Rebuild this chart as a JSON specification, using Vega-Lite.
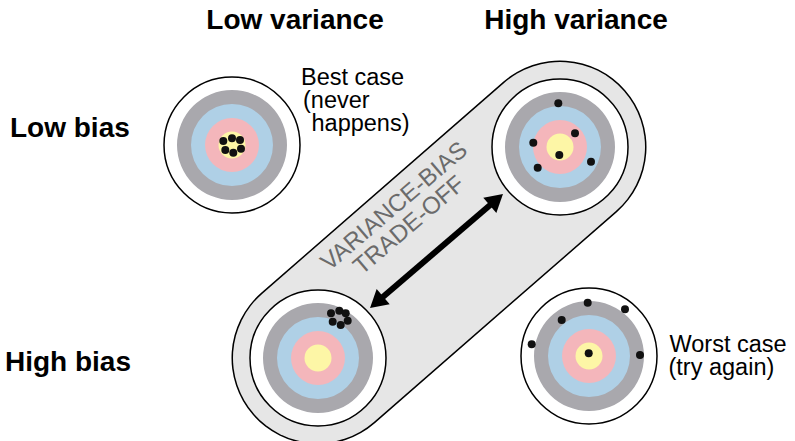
{
  "$schema": "https://vega.github.io/schema/vega-lite/v6.json",
  "width": 795,
  "height": 441,
  "autosize": "none",
  "padding": 0,
  "config": {"view": {"stroke": null}, "font": "Liberation Sans"},
  "datasets": {
    "capsule": [{"x": 318, "y": 358, "o": 1}, {"x": 560, "y": 147, "o": 2}],
    "targets": [
      {"target": "low bias, low variance", "x": 232, "y": 145},
      {"target": "low bias, high variance", "x": 560, "y": 147},
      {"target": "high bias, low variance", "x": 318, "y": 358},
      {"target": "high bias, high variance", "x": 589, "y": 356}
    ],
    "shots": [
      {"target": "low bias, low variance", "x": 223.3, "y": 141},
      {"target": "low bias, low variance", "x": 232, "y": 138.3},
      {"target": "low bias, low variance", "x": 240, "y": 140},
      {"target": "low bias, low variance", "x": 225.3, "y": 150},
      {"target": "low bias, low variance", "x": 233.3, "y": 152.7},
      {"target": "low bias, low variance", "x": 241, "y": 148.7},
      {"target": "low bias, high variance", "x": 558.3, "y": 103.3},
      {"target": "low bias, high variance", "x": 575, "y": 133.3},
      {"target": "low bias, high variance", "x": 533.3, "y": 142.7},
      {"target": "low bias, high variance", "x": 559.3, "y": 155},
      {"target": "low bias, high variance", "x": 591, "y": 161.7},
      {"target": "low bias, high variance", "x": 537.7, "y": 167.7},
      {"target": "high bias, low variance", "x": 331, "y": 313.3},
      {"target": "high bias, low variance", "x": 339.3, "y": 310.7},
      {"target": "high bias, low variance", "x": 345.7, "y": 313.3},
      {"target": "high bias, low variance", "x": 332.7, "y": 321.7},
      {"target": "high bias, low variance", "x": 340.7, "y": 325},
      {"target": "high bias, low variance", "x": 347.7, "y": 320.7},
      {"target": "high bias, high variance", "x": 587.7, "y": 302.7},
      {"target": "high bias, high variance", "x": 625, "y": 309.3},
      {"target": "high bias, high variance", "x": 561.7, "y": 320},
      {"target": "high bias, high variance", "x": 531.7, "y": 344.3},
      {"target": "high bias, high variance", "x": 588.7, "y": 353.3},
      {"target": "high bias, high variance", "x": 640, "y": 355}
    ],
    "arrow": [{"x": 377, "y": 302, "x2": 496, "y2": 200}],
    "heads": [
      {"x": 496.4, "y": 199.7, "end": "high variance"},
      {"x": 376.6, "y": 302.3, "end": "high bias"}
    ],
    "columns": [
      {"label": "Low variance", "x": 295, "y": 29},
      {"label": "High variance", "x": 576, "y": 29}
    ],
    "rows": [
      {"label": "Low bias", "x": 10, "y": 137},
      {"label": "High bias", "x": 5, "y": 371}
    ],
    "notes": [
      {"label": "Best case", "x": 301, "y": 85},
      {"label": "(never", "x": 303, "y": 108},
      {"label": "happens)", "x": 311.5, "y": 131},
      {"label": "Worst case", "x": 669.5, "y": 352},
      {"label": "(try again)", "x": 668.5, "y": 375}
    ],
    "tradeoff": [
      {"label": "VARIANCE-BIAS", "x": 399, "y": 212},
      {"label": "TRADE-OFF", "x": 414, "y": 231}
    ]
  },
  "encoding": {
    "x": {"field": "x", "type": "quantitative", "scale": {"domain": [0, 795], "nice": false, "zero": false}, "axis": null},
    "y": {"field": "y", "type": "quantitative", "scale": {"domain": [0, 441], "nice": false, "zero": false, "reverse": true}, "axis": null}
  },
  "layer": [
    {"data": {"name": "capsule"}, "mark": {"type": "line", "color": "#000000", "strokeWidth": 173, "strokeCap": "round"}, "encoding": {"order": {"field": "o"}}},
    {"data": {"name": "capsule"}, "mark": {"type": "line", "color": "#e6e6e6", "strokeWidth": 170, "strokeCap": "round"}, "encoding": {"order": {"field": "o"}}},
    {"data": {"name": "targets"}, "mark": {"type": "point", "shape": "circle", "filled": true, "fill": "#ffffff", "stroke": "#000000", "strokeWidth": 1.5, "opacity": 1, "size": 18496}},
    {"data": {"name": "targets"}, "mark": {"type": "point", "shape": "circle", "filled": true, "color": "#a9a8ad", "opacity": 1, "size": 12100}},
    {"data": {"name": "targets"}, "mark": {"type": "point", "shape": "circle", "filled": true, "color": "#afd0e6", "opacity": 1, "size": 6724}},
    {"data": {"name": "targets"}, "mark": {"type": "point", "shape": "circle", "filled": true, "color": "#f4b6bb", "opacity": 1, "size": 2916}},
    {"data": {"name": "targets"}, "mark": {"type": "point", "shape": "circle", "filled": true, "color": "#fdf6a6", "opacity": 1, "size": 729}},
    {"data": {"name": "shots"}, "mark": {"type": "point", "shape": "circle", "filled": true, "color": "#111111", "opacity": 1, "size": 64}},
    {"data": {"name": "arrow"}, "mark": {"type": "rule", "color": "#000000", "strokeWidth": 6}, "encoding": {"x2": {"field": "x2"}, "y2": {"field": "y2"}}},
    {"data": {"name": "heads"}, "mark": {"type": "point", "shape": "triangle-up", "filled": true, "color": "#000000", "opacity": 1, "size": 400},
      "encoding": {"angle": {"field": "end", "type": "nominal", "scale": {"domain": ["high variance", "high bias"], "range": [49.4, 229.4]}, "legend": null}}},
    {"data": {"name": "columns"}, "mark": {"type": "text", "fontSize": 28, "fontWeight": "bold", "color": "#000000", "align": "center", "baseline": "alphabetic"},
      "encoding": {"text": {"field": "label"}}},
    {"data": {"name": "rows"}, "mark": {"type": "text", "fontSize": 28, "fontWeight": "bold", "color": "#000000", "align": "left", "baseline": "alphabetic"},
      "encoding": {"text": {"field": "label"}}},
    {"data": {"name": "notes"}, "mark": {"type": "text", "fontSize": 23.5, "color": "#000000", "align": "left", "baseline": "alphabetic"},
      "encoding": {"text": {"field": "label"}}},
    {"data": {"name": "tradeoff"}, "mark": {"type": "text", "fontSize": 24, "color": "#6b6b6b", "align": "center", "baseline": "alphabetic", "angle": 319.5},
      "encoding": {"text": {"field": "label"}}}
  ]
}
